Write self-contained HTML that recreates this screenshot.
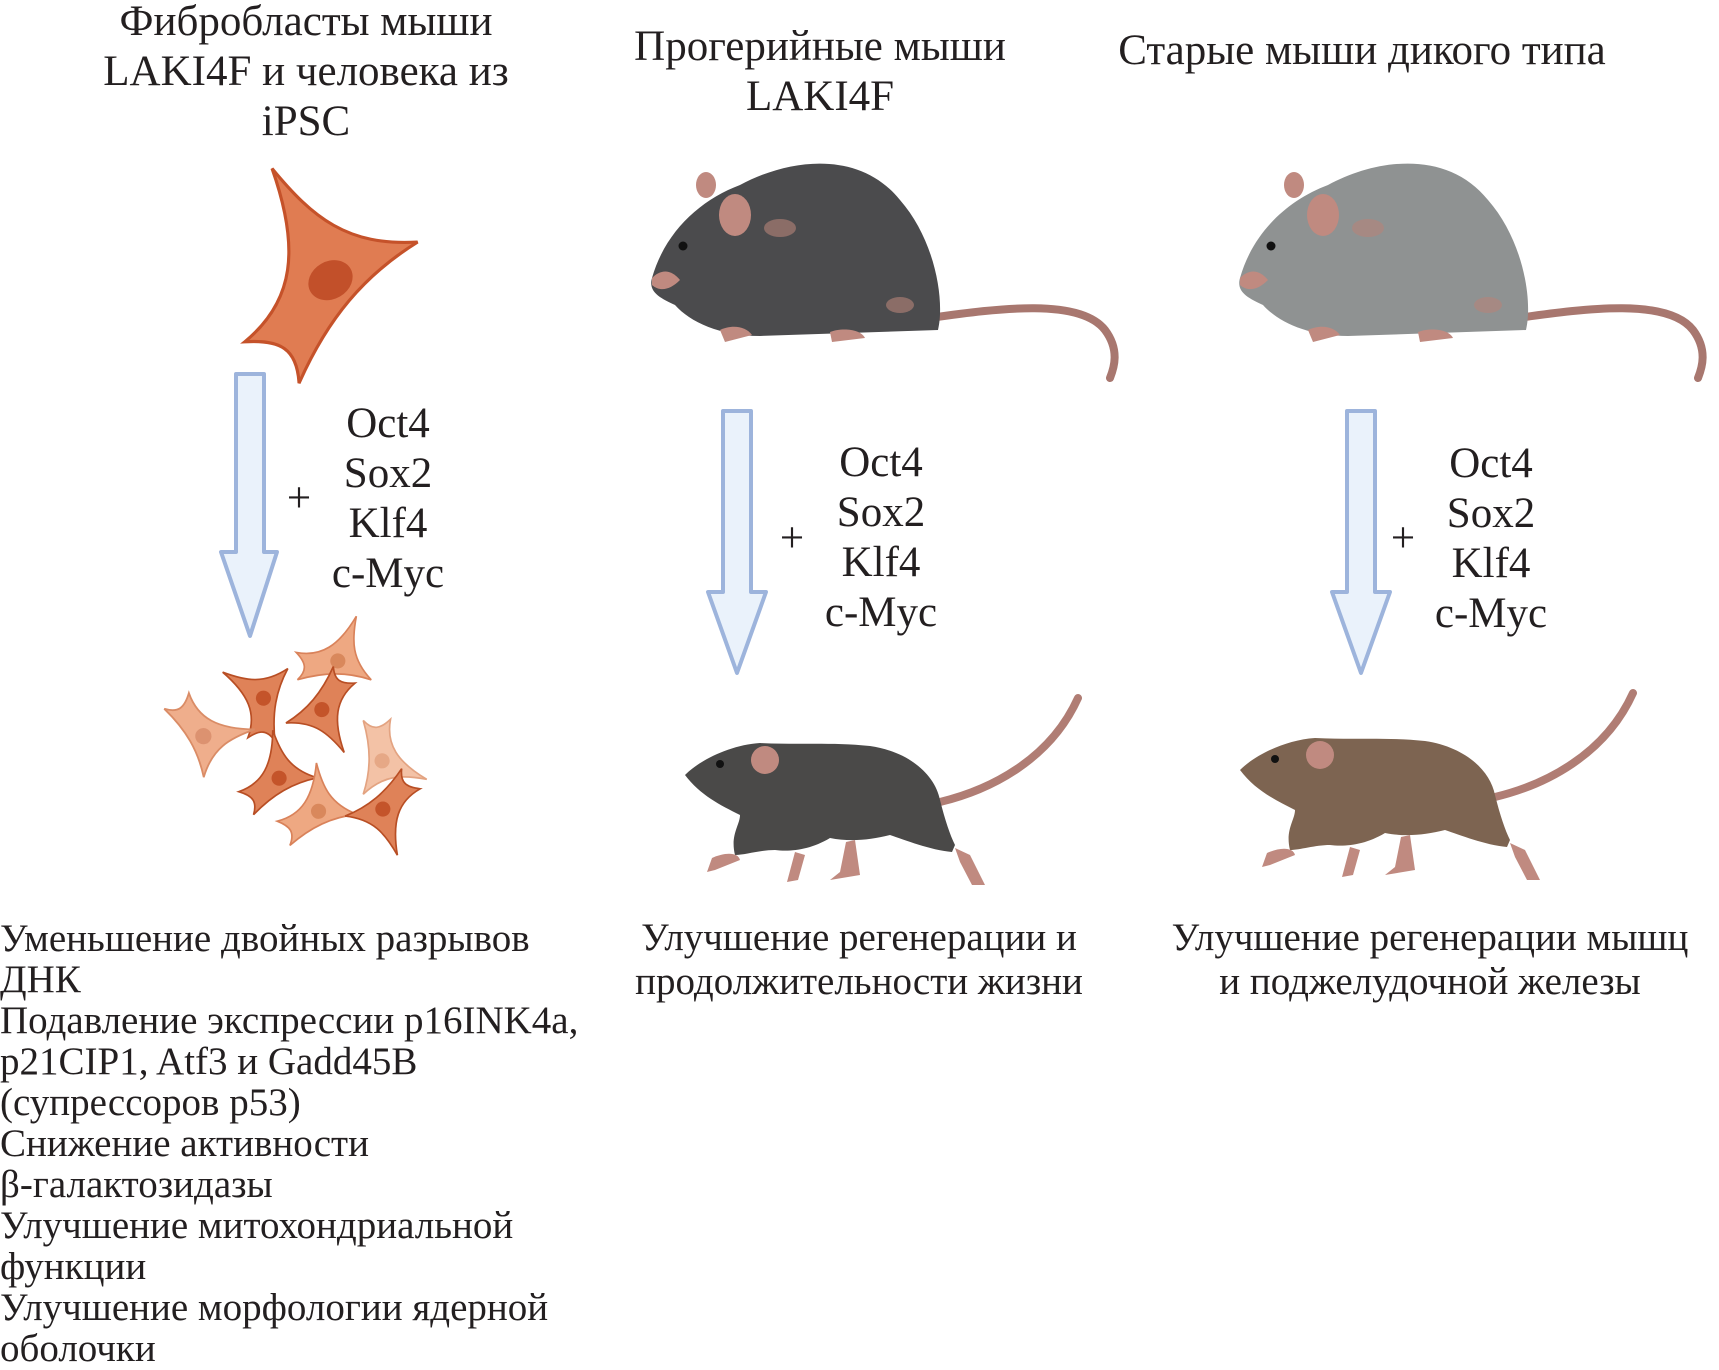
<!DOCTYPE html>
<html><head><meta charset="utf-8"><style>
html,body{margin:0;padding:0;background:#fff}
body{width:1719px;height:1364px;position:relative;overflow:hidden;font-family:"Liberation Serif","DejaVu Serif",serif;color:#231f20}
.t{position:absolute;white-space:nowrap;font-size:43px;line-height:50px;text-align:center;transform:translateX(-50%)}
.g{position:absolute;font-size:43px;line-height:50px;text-align:center;transform:translateX(-50%)}
.b{position:absolute;white-space:nowrap;font-size:39px;line-height:41px}
svg{position:absolute;left:0;top:0}
</style></head><body>
<svg width="1719" height="1364" viewBox="0 0 1719 1364">
<defs>
<path id="cell" d="M-100,30 C-40,20 -10,-20 5,-100 C15,-40 30,0 90,30 C30,32 -20,50 -75,90 C-60,60 -70,45 -100,30 Z"/>
<g id="sit">
<path d="M930,318 C1000,308 1080,298 1105,330 C1120,350 1114,368 1110,378" fill="none" stroke="#a8776f" stroke-width="8" stroke-linecap="round"/>
<path d="M652,278 C665,232 700,200 740,185 C790,158 860,150 900,200 C935,240 945,300 938,330 L760,336 C720,336 690,322 675,305 C660,298 648,292 652,278 Z"/>
<ellipse cx="735" cy="215" rx="16" ry="21" fill="#c08a80"/>
<ellipse cx="706" cy="185" rx="10" ry="13" fill="#c08a80"/>
<circle cx="683" cy="246" r="4.5" fill="#111"/>
<path d="M652,278 C660,270 670,268 680,280 C670,290 660,292 652,285Z" fill="#c08a80"/>
<path d="M720,330 C730,325 745,325 752,335 L725,342Z" fill="#c08a80"/>
<path d="M830,332 C840,328 860,328 865,338 L832,342Z" fill="#c08a80"/>
<ellipse cx="780" cy="228" rx="16" ry="9" fill="#b5847a" opacity=".6"/>
<ellipse cx="900" cy="305" rx="14" ry="8" fill="#b5847a" opacity=".6"/>
</g>
<g id="walk">
<path d="M940,802 C990,790 1050,760 1078,698" fill="none" stroke="#b07d74" stroke-width="8" stroke-linecap="round"/>
<path d="M685,775 C700,760 730,745 760,743 C800,745 830,742 870,746 C910,752 935,775 940,800 C945,820 950,835 955,845 L952,852 C930,850 905,840 890,835 C870,840 850,842 830,838 C810,850 790,852 775,850 C760,850 745,855 735,855 C730,835 740,825 740,815 C720,805 700,795 685,775 Z"/>
<ellipse cx="765" cy="760" rx="14" ry="14" fill="#c08a80"/>
<circle cx="720" cy="764" r="4" fill="#111"/>
<path d="M712,858 C725,852 738,852 740,860 L715,870 L707,872Z" fill="#c08a80"/>
<path d="M795,852 L805,855 L798,880 L787,882Z" fill="#c08a80"/>
<path d="M855,840 L860,875 L830,880 L840,872 L846,842Z" fill="#c08a80"/>
<path d="M955,848 L970,855 L985,885 L972,885 L960,862Z" fill="#c08a80"/>
</g>
</defs>
<g transform="translate(320,262) rotate(-30) scale(1.05)">
<use href="#cell" fill="#e07c52" stroke="#c5522a" stroke-width="3"/>
<ellipse cx="0" cy="20" rx="22" ry="18" fill="#c2502a"/>
</g>
<g>
<g transform="translate(340,655) rotate(20) scale(.42)"><use href="#cell" fill="#eea882" stroke="#d9825a" stroke-width="4"/><ellipse cx="0" cy="15" rx="18" ry="18" fill="#d9885c"/></g>
<g transform="translate(258,695) rotate(-60) scale(.42)"><use href="#cell" fill="#df8258" stroke="#b84e24" stroke-width="4"/><ellipse cx="0" cy="15" rx="18" ry="18" fill="#c4542a"/></g>
<g transform="translate(210,735) rotate(80) scale(.45)"><use href="#cell" fill="#efae8c" stroke="#da8c66" stroke-width="4"/><ellipse cx="0" cy="15" rx="18" ry="18" fill="#dc9270"/></g>
<g transform="translate(325,715) rotate(150) scale(.42)"><use href="#cell" fill="#df8258" stroke="#b84e24" stroke-width="4"/><ellipse cx="0" cy="15" rx="18" ry="18" fill="#c4542a"/></g>
<g transform="translate(278,772) rotate(-10) scale(.42)"><use href="#cell" fill="#df8258" stroke="#b84e24" stroke-width="4"/><ellipse cx="0" cy="15" rx="18" ry="18" fill="#c4542a"/></g>
<g transform="translate(388,763) rotate(110) scale(.42)"><use href="#cell" fill="#f3c2a6" stroke="#e3a381" stroke-width="4"/><ellipse cx="0" cy="15" rx="18" ry="18" fill="#e6a886"/></g>
<g transform="translate(318,805) rotate(-5) scale(.42)"><use href="#cell" fill="#eea882" stroke="#d9825a" stroke-width="4"/><ellipse cx="0" cy="15" rx="18" ry="18" fill="#d9885c"/></g>
<g transform="translate(385,815) rotate(160) scale(.42)"><use href="#cell" fill="#df8258" stroke="#b84e24" stroke-width="4"/><ellipse cx="0" cy="15" rx="18" ry="18" fill="#c4542a"/></g>
</g>
<g fill="#4b4b4d"><use href="#sit"/></g>
<g fill="#8f9292" transform="translate(588,0)"><use href="#sit"/></g>
<g fill="#4a4948"><use href="#walk"/></g>
<g fill="#7d6451" transform="translate(555,-5)"><use href="#walk"/></g>
<g fill="#eaf2fb" stroke="#9db4dc" stroke-width="4" stroke-linejoin="round">
<path d="M236,374 L264,374 L264,552 L277,552 L250,636 L221,552 L236,552 Z"/>
<path d="M723,411 L751,411 L751,592 L766,592 L737,673 L708,592 L723,592 Z"/>
<path d="M1347,411 L1375,411 L1375,592 L1390,592 L1361,673 L1332,592 L1347,592 Z"/>
</g>
</svg>
<div class="t" style="left:306px;top:-3px">Фибробласты мыши<br>LAKI4F и человека из<br>iPSC</div>
<div class="t" style="left:820px;top:22px">Прогерийные мыши<br>LAKI4F</div>
<div class="t" style="left:1362px;top:26px">Старые мыши дикого типа</div>
<div class="g" style="left:299px;top:474px">+</div>
<div class="g" style="left:388px;top:399px">Oct4<br>Sox2<br>Klf4<br>c-Myc</div>
<div class="g" style="left:792px;top:514px">+</div>
<div class="g" style="left:881px;top:438px">Oct4<br>Sox2<br>Klf4<br>c-Myc</div>
<div class="g" style="left:1403px;top:514px">+</div>
<div class="g" style="left:1491px;top:439px">Oct4<br>Sox2<br>Klf4<br>c-Myc</div>
<div class="b" style="left:0;top:918px">Уменьшение двойных разрывов<br>ДНК<br>Подавление экспрессии p16INK4a,<br>p21CIP1, Atf3 и Gadd45B<br>(супрессоров p53)<br>Снижение активности<br>β-галактозидазы<br>Улучшение митохондриальной<br>функции<br>Улучшение морфологии ядерной<br>оболочки</div>
<div class="b" style="left:859px;top:916px;transform:translateX(-50%);text-align:center;line-height:44px">Улучшение регенерации и<br>продолжительности жизни</div>
<div class="b" style="left:1430px;top:916px;transform:translateX(-50%);text-align:center;line-height:44px">Улучшение регенерации мышц<br>и поджелудочной железы</div>
</body></html>
